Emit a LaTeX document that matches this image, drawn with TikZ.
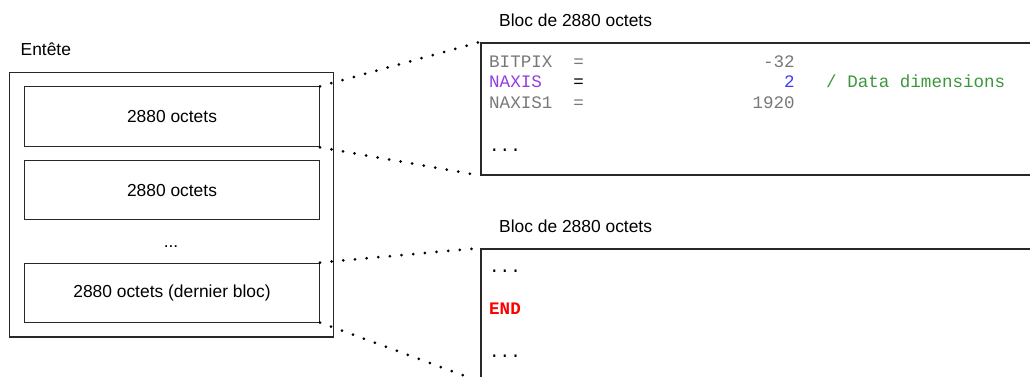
\documentclass[tikz,border=0pt]{standalone}
\usepackage{fontspec}
\setmainfont{Liberation Sans}
\setmonofont{Liberation Mono}
\definecolor{kwgrey}{RGB}{120,120,120}
\definecolor{kwpurple}{RGB}{150,60,225}
\definecolor{valblue}{RGB}{60,60,255}
\definecolor{cmtgreen}{RGB}{60,150,60}
\definecolor{endred}{RGB}{255,0,0}
\definecolor{edge}{RGB}{40,40,40}
\tikzset{
  outerbox/.style={draw=edge, line width=1.3pt, anchor=north west, inner sep=0pt},
  innerbox/.style={draw=edge, line width=1pt, anchor=north west, inner sep=0pt, minimum width=295pt, font=\fontsize{17.4pt}{20pt}\selectfont},
  blockbox/.style={draw=edge, line width=1.5pt, anchor=north west, inner sep=0pt, minimum width=560pt, minimum height=132pt},
  label/.style={anchor=base west, inner sep=0pt, font=\fontsize{17.4pt}{20pt}\selectfont},
  codeline/.style={anchor=base west, inner sep=0pt, font=\ttfamily\fontsize{17.55pt}{21pt}\selectfont},
  dotline/.style={line width=3pt, line cap=round, dash pattern=on 0pt off 11.7pt, black},
}
\begin{document}
\begin{tikzpicture}[x=1pt,y=-1pt]
\useasboundingbox (0,0) rectangle (1030,376);
\clip (0,0) rectangle (1030,376);
% left header
\node[label] (entete) at (20.5,55) {Entête};
\node[outerbox, minimum width=323.5pt, minimum height=264.5pt] (header) at (9,71.7) {};
\node[innerbox, minimum height=60pt] (b1) at (24,86.3) {2880 octets};
\node[innerbox, minimum height=59pt] (b2) at (24,160.3) {2880 octets};
\node[label, anchor=base] (dots) at (171,247) {...};
\node[innerbox, minimum height=59pt] (b3) at (24,262.5) {2880 octets (dernier bloc)};
% right blocks
\node[label] (t1) at (499,26.5) {Bloc de 2880 octets};
\node[blockbox] (blk1) at (480,42) {};
\node[label] (t2) at (499,232.5) {Bloc de 2880 octets};
\node[blockbox] (blk2) at (480,248) {};
% code, block 1
\node[codeline, text=kwgrey] (l1) at (489,67) {BITPIX~~=~~~~~~~~~~~~~~~~~-32};
\node[codeline] (l2) at (489,87.5) {\textcolor{kwpurple}{NAXIS}~~~\textcolor{black}{=}~~~~~~~~~~~~~~~~~~~\textcolor{valblue}{2}~~~\textcolor{cmtgreen}{/ Data dimensions}};
\node[codeline, text=kwgrey] (l3) at (489,108.5) {NAXIS1~~=~~~~~~~~~~~~~~~~1920};
\node[codeline] (l5) at (489,151.5) {...};
% code, block 2
\node[codeline] (m1) at (489,272) {...};
\node[codeline, text=endred] (m3) at (489,314.5) {\bfseries END};
\node[codeline] (m5) at (489,357) {...};
% connectors
\draw[dotline] (b1.north east) -- (blk1.north west);
\draw[dotline] (b1.south east) -- (blk1.south west);
\draw[dotline] (b3.north east) -- (blk2.north west);
\draw[dotline] (b3.south east) -- (blk2.south west);
\end{tikzpicture}
\end{document}
